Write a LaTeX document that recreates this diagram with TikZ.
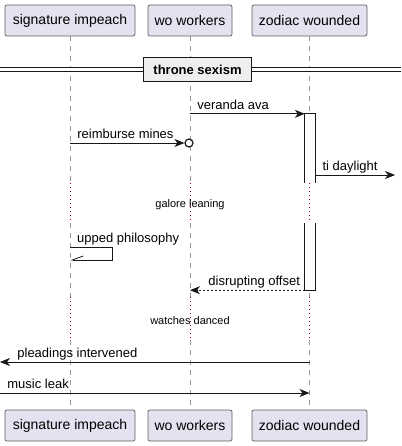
\documentclass[tikz,border=0pt]{standalone}
\usepackage{fontspec}
\setmainfont{Liberation Sans}
\usetikzlibrary{positioning,arrows.meta,calc}
\definecolor{partfill}{HTML}{E2E2F0}
\definecolor{partline}{HTML}{181818}
\definecolor{delaycol}{HTML}{A80036}
\definecolor{divfill}{HTML}{EEEEEE}
\tikzset{
    x=1pt,
    y=-1pt,
    actor/.style = {
        draw=partline!70,
        fill=partfill,
        rounded corners=2pt,
        minimum height=31pt,
        line width=0.7pt,
        font=\fontsize{14}{16}\selectfont
    },
    life/.style = {
        draw=gray!80,
        line width=0.7pt,
        dash pattern=on 5pt off 5pt
    },
    delay/.style = {
        draw=delaycol,
        line width=0.9pt,
        dash pattern=on 1pt off 3pt
    },
    actbar/.style = {
        shape=rectangle,
        fill=white,
        minimum width=10pt,
        inner sep=0pt
    },
    msg/.style = {
        draw=partline,
        line width=0.8pt,
        -{Stealth[length=10pt,width=8pt,inset=3pt]}
    },
    lbl/.style = {
        font=\fontsize{13}{15}\selectfont,
        inner sep=0pt
    },
    delaylbl/.style = {
        font=\fontsize{11}{13}\selectfont,
        inner sep=0pt,
        anchor=base
    },
}
\begin{document}
\begin{tikzpicture}
\useasboundingbox (0,0) rectangle (401,446);
% participants
\node[actor, minimum width=130pt] (sig-top) at (70,20.5) {signature impeach};
\node[actor, minimum width=84pt] (wo-top) at (190,20.5) {wo workers};
\node[actor, minimum width=115pt] (zod-top) at (309.5,20.5) {zodiac wounded};
\node[actor, minimum width=130pt] (sig-bot) at (70,425.5) {signature impeach};
\node[actor, minimum width=84pt] (wo-bot) at (190,425.5) {wo workers};
\node[actor, minimum width=115pt] (zod-bot) at (309.5,425.5) {zodiac wounded};

% delay levels
\coordinate (d1a) at (0,183);
\coordinate (d1b) at (0,223);
\coordinate (d2a) at (0,297);
\coordinate (d2b) at (0,340);

% lifelines
\foreach \p in {sig,wo,zod}{
    \path[life] (\p-top.south) -- (\p-top |- d1a);
    \path[delay] (\p-top |- d1a) -- (\p-top |- d1b);
    \path[life] (\p-top |- d1b) -- (\p-top |- d2a);
    \path[delay] (\p-top |- d2a) -- (\p-top |- d2b);
    \path[life] (\p-top |- d2b) -- (\p-bot.north);
}

% divider
\coordinate (div-l) at (0,70);
\coordinate (div-r) at (401,70);
\path[draw=partline, double=white, double distance=3pt, line width=1pt] (div-l) -- (div-r);
\node[draw=partline, fill=divfill, line width=1.6pt, minimum width=108pt, minimum height=24pt,
      font=\bfseries\fontsize{13}{15}\selectfont] (divider) at (197.5,69.5) {throne sexism};

% activation
\node[actbar, minimum height=69pt] (act1) at (310,148.5) {};
\node[actbar, minimum height=67pt] (act2) at (310,256.5) {};
\path[draw=partline, line width=0.8pt] (act1.south west) -- (act1.north west) -- (act1.north east) -- (act1.south east);
\path[draw=partline, line width=0.8pt] (act2.north west) -- (act2.south west) -- (act2.south east) -- (act2.north east);

% message levels
\coordinate (m2) at (0,143);
\coordinate (m3) at (0,175);
\coordinate (m4) at (0,247);
\coordinate (m4b) at (0,260);
\coordinate (m6) at (0,362);
\coordinate (m7) at (0,393);
\coordinate (far-left) at (0,0);
\coordinate (far-right) at (395,0);

\node[draw=partline, circle, line width=1.2pt, minimum size=8pt, inner sep=0pt] (lost) at ($(wo-top |- m2)+(-1,0)$) {};

% messages
\path[msg] (wo-top |- act1.north) -- (act1.north west)
    node[lbl, pos=0, anchor=base west, xshift=7pt, yshift=4.5pt] {veranda ava};
\path[msg] (sig-top |- m2) -- (lost.west)
    node[lbl, pos=0, anchor=base west, xshift=7pt, yshift=4.5pt] {reimburse mines};
\path[msg] (act1.east |- m3) -- (far-right |- m3)
    node[lbl, pos=0, anchor=base west, xshift=7pt, yshift=4.5pt] {ti daylight};
\path[draw=partline, line width=0.8pt, -{Straight Barb[harpoon,swap,length=11pt,width=8pt]}]
    (sig-top |- m4) -- ++(42,0) -- ++(0,13) -- (sig-top |- m4b);
\node[lbl, anchor=base west] at ($(sig-top |- m4)+(7,-4.5)$) {upped philosophy};
\path[msg, dash pattern=on 2pt off 2pt] (act2.south west) -- (wo-top |- act2.south)
    node[lbl, pos=1, anchor=base west, xshift=18pt, yshift=4.5pt] {disrupting offset};
\path[msg] (zod-top |- m6) -- (far-left |- m6)
    node[lbl, pos=1, anchor=base west, xshift=17pt, yshift=4.5pt] {pleadings intervened};
\path[msg] (far-left |- m7) -- (zod-top |- m7)
    node[lbl, pos=0, anchor=base west, xshift=7pt, yshift=4.5pt] {music leak};

% delay texts
\node[delaylbl] (delay1) at (190,207) {galore leaning};
\node[delaylbl] (delay2) at (190,324) {watches danced};
\end{tikzpicture}
\end{document}
